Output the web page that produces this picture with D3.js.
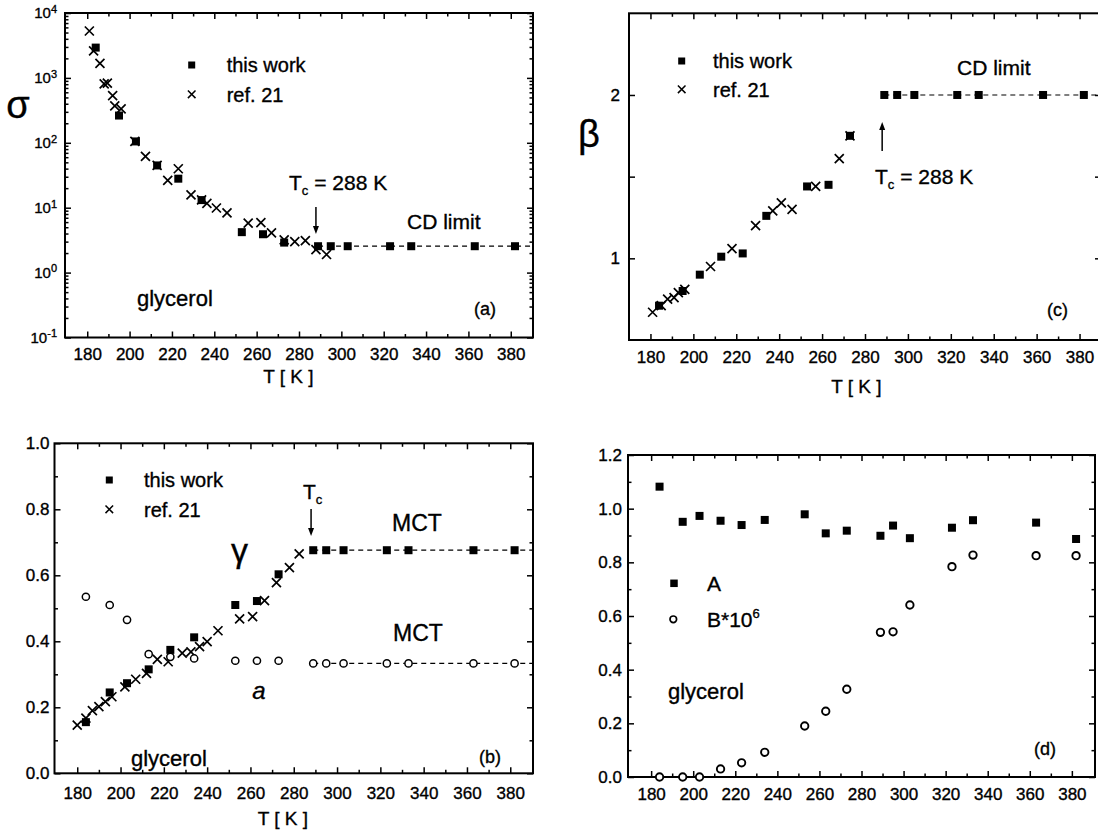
<!DOCTYPE html>
<html><head><meta charset="utf-8">
<script src="https://cdn.jsdelivr.net/npm/d3@7"></script>
<style>
body{margin:0;background:#fff;}
svg{display:block;}
text{font-family:"Liberation Sans",Arial,Helvetica,sans-serif;fill:#000;stroke:#000;stroke-width:0.35px;}
</style></head><body>
<svg id="c" width="1098" height="833"></svg>
<script>
// ---------------- DATA ----------------
const T_work = [184,195,203,213,223,234,253,263,273,289,295,303,323,333,363,382];
const sigma_work = [2930,263,105,44.8,28,13.1,4.2,3.9,2.9,2.55,2.55,2.55,2.55,2.55,2.55,2.55];
const T_ref_sigma = [181,183,186,188,189.5,192,193,196,202.5,207.5,213,218,223,229,234,236.5,241,246,256,262,267,273,278,283,288,293];
const sigma_ref = [5280,2600,1680,810,830,535,370,333,105,61.6,44.8,26.3,39.8,15.8,13.2,11.7,9.9,8.3,5.8,5.9,4.1,3.2,3.0,3.1,2.26,1.9];

const beta_work = [0.71,0.80,0.90,1.01,1.03,1.26,1.44,1.45,1.75,2,2,2,2,2,2,2];
const T_ref_beta = [181,185,188,191,193,196,208,218,229,237,241,246,257,268,273];
const beta_ref = [0.67,0.71,0.75,0.76,0.79,0.81,0.95,1.06,1.20,1.29,1.34,1.30,1.44,1.61,1.75];

const gamma_work = [0.155,0.245,0.273,0.315,0.374,0.412,0.51,0.522,0.603,0.676,0.676,0.676,0.676,0.676,0.676,0.676];
const T_ref_gamma = [180,184,187,190,193,196,202,207,212,217,222,228.5,232.5,236.5,240,245,255,261,266.5,272,278,282.5];
const gamma_ref = [0.146,0.167,0.19,0.202,0.217,0.232,0.262,0.285,0.303,0.345,0.338,0.364,0.368,0.384,0.399,0.432,0.468,0.475,0.523,0.578,0.623,0.665];
const a_work = [0.535,0.51,0.465,0.361,0.353,0.348,0.341,0.341,0.341,0.333,0.333,0.333,0.333,0.333,0.333,0.333];

const A_work = [1.082,0.951,0.973,0.955,0.939,0.958,0.979,0.908,0.918,0.899,0.937,0.89,0.929,0.957,0.948,0.887];
const B_work = [0.0,0.0,0.0,0.03,0.053,0.092,0.19,0.245,0.327,0.539,0.541,0.641,0.784,0.827,0.825,0.825];

const T_c = 288;
const sigma_CD = 2.55, beta_CD = 2, gamma_MCT = 0.676, a_MCT = 0.333;

const tempTicks = [180,200,220,240,260,280,300,320,340,360,380];
const tempMinor = [190,210,230,250,270,290,310,330,350,370];
const sigmaTicks = [0.1,1,10,100,1000,10000];
const sigmaMinorMult = [2,3,4,5,6,7,8,9];
const betaTicks = [1,1.5,2];
const gammaTicks = [0,0.2,0.4,0.6,0.8,1.0];
const gammaMinor = [0.1,0.3,0.5,0.7,0.9];
const abTicks = [0,0.2,0.4,0.6,0.8,1.0,1.2];
const abMinor = [0.1,0.3,0.5,0.7,0.9,1.1];

// ---------------- DRAWING ----------------
const svg = d3.select("#c");
const FONT = '"Liberation Sans",Arial,Helvetica,sans-serif';
const SERIF = '"Liberation Serif","DejaVu Serif",serif';

function styleAxis(sel, fs){
  sel.select(".domain").remove();
  sel.selectAll(".tick line").attr("stroke","#000").attr("stroke-width",1.5);
  sel.attr("font-family",FONT).attr("font-size",fs);
  sel.selectAll(".tick text").attr("fill","#000");
}

function panel(cfg){
  const g = svg.append("g");
  const x = d3.scaleLinear().domain(cfg.xDomain).range([cfg.left,cfg.right]);
  const y = (cfg.log?d3.scaleLog():d3.scaleLinear()).domain(cfg.yDomain).range([cfg.bottom,cfg.top]);
  const M=6, m=3.5;
  g.append("g").attr("transform",`translate(0,${cfg.bottom})`)
    .call(d3.axisBottom(x).tickValues(tempTicks).tickSize(-M).tickSizeOuter(0).tickPadding(cfg.xpad).tickFormat(d3.format("d")))
    .call(s=>styleAxis(s,17));
  g.append("g").attr("transform",`translate(0,${cfg.bottom})`)
    .call(d3.axisBottom(x).tickValues(tempMinor).tickSize(-m).tickSizeOuter(0).tickFormat(""))
    .call(s=>styleAxis(s,17));
  g.append("g").attr("transform",`translate(0,${cfg.top})`)
    .call(d3.axisTop(x).tickValues(tempTicks).tickSize(-M).tickSizeOuter(0).tickFormat(""))
    .call(s=>styleAxis(s,17));
  g.append("g").attr("transform",`translate(0,${cfg.top})`)
    .call(d3.axisTop(x).tickValues(tempMinor).tickSize(-m).tickSizeOuter(0).tickFormat(""))
    .call(s=>styleAxis(s,17));
  const yl = g.append("g").attr("transform",`translate(${cfg.left},0)`)
    .call(d3.axisLeft(y).tickValues(cfg.yTicks).tickSize(-M).tickSizeOuter(0).tickPadding(cfg.ypad).tickFormat(cfg.yFormat))
    .call(s=>styleAxis(s,17));
  g.append("g").attr("transform",`translate(${cfg.right},0)`)
    .call(d3.axisRight(y).tickValues(cfg.yTicks).tickSize(-M).tickSizeOuter(0).tickFormat(""))
    .call(s=>styleAxis(s,17));
  if(cfg.yMinor){
    g.append("g").attr("transform",`translate(${cfg.left},0)`)
      .call(d3.axisLeft(y).tickValues(cfg.yMinor).tickSize(-m).tickSizeOuter(0).tickFormat(""))
      .call(s=>styleAxis(s,17));
    g.append("g").attr("transform",`translate(${cfg.right},0)`)
      .call(d3.axisRight(y).tickValues(cfg.yMinor).tickSize(-m).tickSizeOuter(0).tickFormat(""))
      .call(s=>styleAxis(s,17));
  }
  g.append("rect").attr("x",cfg.left).attr("y",cfg.top)
    .attr("width",cfg.right-cfg.left).attr("height",cfg.bottom-cfg.top)
    .attr("fill","none").attr("stroke","#000").attr("stroke-width",2);
  return {g,x,y,yl};
}

function squares(g,xs,ys,x,y,s){
  g.selectAll(null).data(xs).enter().append("rect")
    .attr("x",(d,i)=>x(d)-s/2).attr("y",(d,i)=>y(ys[i])-s/2)
    .attr("width",s).attr("height",s).attr("fill","#000");
}
function crosses(g,xs,ys,x,y,r,w){
  g.selectAll(null).data(xs).enter().append("path")
    .attr("d",(d,i)=>{const cx=x(d),cy=y(ys[i]);return `M${cx-r},${cy-r}L${cx+r},${cy+r}M${cx-r},${cy+r}L${cx+r},${cy-r}`;})
    .attr("stroke","#000").attr("stroke-width",w||1.7).attr("fill","none");
}
function circles(g,xs,ys,x,y,r,w){
  g.selectAll(null).data(xs).enter().append("circle")
    .attr("cx",d=>x(d)).attr("cy",(d,i)=>y(ys[i])).attr("r",r)
    .attr("fill","#fff").attr("stroke","#000").attr("stroke-width",w||1.5);
}
function dashed(g,x,y,x0,x1,v){
  g.append("line").attr("x1",x(x0)).attr("x2",x(x1)).attr("y1",y(v)).attr("y2",y(v))
    .attr("stroke","#000").attr("stroke-width",1.2).attr("stroke-dasharray","5,4");
}
function arrow(g,ax,y0,y1){
  const dir = y1>y0?1:-1;
  g.append("line").attr("x1",ax).attr("x2",ax).attr("y1",y0).attr("y2",y1-dir*7)
    .attr("stroke","#000").attr("stroke-width",1.5);
  g.append("path").attr("d",`M${ax-3},${y1-dir*8}L${ax+3},${y1-dir*8}L${ax},${y1}Z`).attr("fill","#000");
}
function txt(g,x,y,s,fs,opts={}){
  const t=g.append("text").attr("x",x).attr("y",y).attr("font-size",fs)
    .attr("font-family",opts.family||FONT).text(s);
  if(opts.anchor) t.attr("text-anchor",opts.anchor);
  if(opts.italic) t.attr("font-style","italic");
  if(opts.weight) t.attr("font-weight",opts.weight);
  return t;
}
function tcLabel(g,x,y,fs,full){
  const t=g.append("text").attr("x",x).attr("y",y).attr("font-size",fs).attr("font-family",FONT);
  t.append("tspan").text("T");
  t.append("tspan").attr("font-size",fs*0.62).attr("dy",5).text("c");
  if(full) t.append("tspan").attr("dy",-5).text(" = 288 K");
  return t;
}

// ===== Panel (a): sigma =====
{
  const P = panel({left:65,right:533,top:13,bottom:337.5,xDomain:[169.5,390.5],log:true,yDomain:[0.1,10000],
    yTicks:sigmaTicks, yMinor: sigmaTicks.slice(0,-1).flatMap(d=>sigmaMinorMult.map(k=>d*k)),
    yFormat:()=> "", xpad:10.5, ypad:8});
  const {g,x,y} = P;
  P.yl.selectAll(".tick text").each(function(d){
    const t=d3.select(this).text("10");
    t.append("tspan").attr("dy","-0.5em").attr("font-size",11).text(Math.round(Math.log10(d)));
  }).attr("font-size",15);
  dashed(g,x,y,T_work[9],x.domain()[1],sigma_CD);
  crosses(g,T_ref_sigma,sigma_ref,x,y,4.5);
  squares(g,T_work,sigma_work,x,y,8);
  squares(g,[1],[1],()=>191.7,()=>65,7);
  crosses(g,[1],[1],()=>191.7,()=>94.3,3.8,1.5);
  txt(g,226.7,72,"this work",20);
  txt(g,226.7,101.5,"ref. 21",20);
  txt(g,18,118,"σ",38,{family:SERIF,anchor:"middle"});
  tcLabel(g,289,190,21,true);
  arrow(g,x(T_c),207,234);
  txt(g,407,229,"CD limit",21);
  txt(g,137,306,"glycerol",22);
  txt(g,474,315,"(a)",18);
  txt(g,x(275),383,"T [ K ]",19,{anchor:"middle"});
}

// ===== Panel (c): beta =====
{
  const P = panel({left:629,right:1101,top:13.3,bottom:340,xDomain:[170,390],yDomain:[0.5,2.5],
    yTicks:betaTicks, yFormat:d=>Number.isInteger(d)?String(d):"", xpad:10.5, ypad:9});
  const {g,x,y} = P;
  dashed(g,x,y,T_work[9],x.domain()[1],beta_CD);
  crosses(g,T_ref_beta,beta_ref,x,y,4.5);
  squares(g,T_work,beta_work,x,y,8);
  squares(g,[1],[1],()=>681.7,()=>61,7);
  crosses(g,[1],[1],()=>681.7,()=>89.3,3.8,1.5);
  txt(g,713,68,"this work",20);
  txt(g,713,96.5,"ref. 21",20);
  txt(g,589,147,"β",38,{family:SERIF,anchor:"middle"});
  txt(g,957,75,"CD limit",21);
  tcLabel(g,875,184,21,true);
  arrow(g,x(T_c),151,122);
  txt(g,1047,316,"(c)",18);
  txt(g,x(276),393,"T [ K ]",19,{anchor:"middle"});
}

// ===== Panel (b): gamma / a =====
{
  const P = panel({left:54.5,right:533,top:443.3,bottom:773.3,xDomain:[169.5,390.5],yDomain:[0,1],
    yTicks:gammaTicks, yMinor:gammaMinor, yFormat:d3.format(".1f"), xpad:14, ypad:5});
  const {g,x,y} = P;
  dashed(g,x,y,T_work[9],x.domain()[1],gamma_MCT);
  dashed(g,x,y,T_work[9],x.domain()[1],a_MCT);
  crosses(g,T_ref_gamma,gamma_ref,x,y,4.5);
  squares(g,T_work,gamma_work,x,y,8);
  circles(g,T_work,a_work,x,y,3.6);
  squares(g,[1],[1],()=>109.3,()=>480,7);
  crosses(g,[1],[1],()=>109.3,()=>509.3,3.8,1.5);
  txt(g,144,487,"this work",20);
  txt(g,144,516.5,"ref. 21",20);
  txt(g,239.5,562,"γ",34,{family:SERIF,anchor:"middle"});
  tcLabel(g,303,499,21,false);
  arrow(g,x(T_c),509,536);
  txt(g,392,531,"MCT",23);
  txt(g,393,641,"MCT",23);
  txt(g,259,699,"a",24,{italic:true,anchor:"middle"});
  txt(g,131,766,"glycerol",22);
  txt(g,479,763,"(b)",18);
  txt(g,x(275),825,"T [ K ]",19,{anchor:"middle"});
}

// ===== Panel (d): A, B =====
{
  const P = panel({left:628,right:1095,top:455,bottom:777,xDomain:[169,391],yDomain:[0,1.2],
    yTicks:abTicks, yMinor:abMinor, yFormat:d3.format(".1f"), xpad:10.5, ypad:6});
  const {g,x,y} = P;
  squares(g,T_work,A_work,x,y,8);
  circles(g,T_work,B_work,x,y,3.7,1.9);
  squares(g,[1],[1],()=>674,()=>583.3,7.5);
  circles(g,[1],[1],()=>673.3,()=>619.3,3.3,1.7);
  txt(g,707,591,"A",21);
  const bt = txt(g,707,627,"B*10",21);
  bt.append("tspan").attr("dy",-9).attr("font-size",13).text("6");
  txt(g,668,699,"glycerol",22);
  txt(g,1034,755,"(d)",18);
}
</script>
</body></html>
